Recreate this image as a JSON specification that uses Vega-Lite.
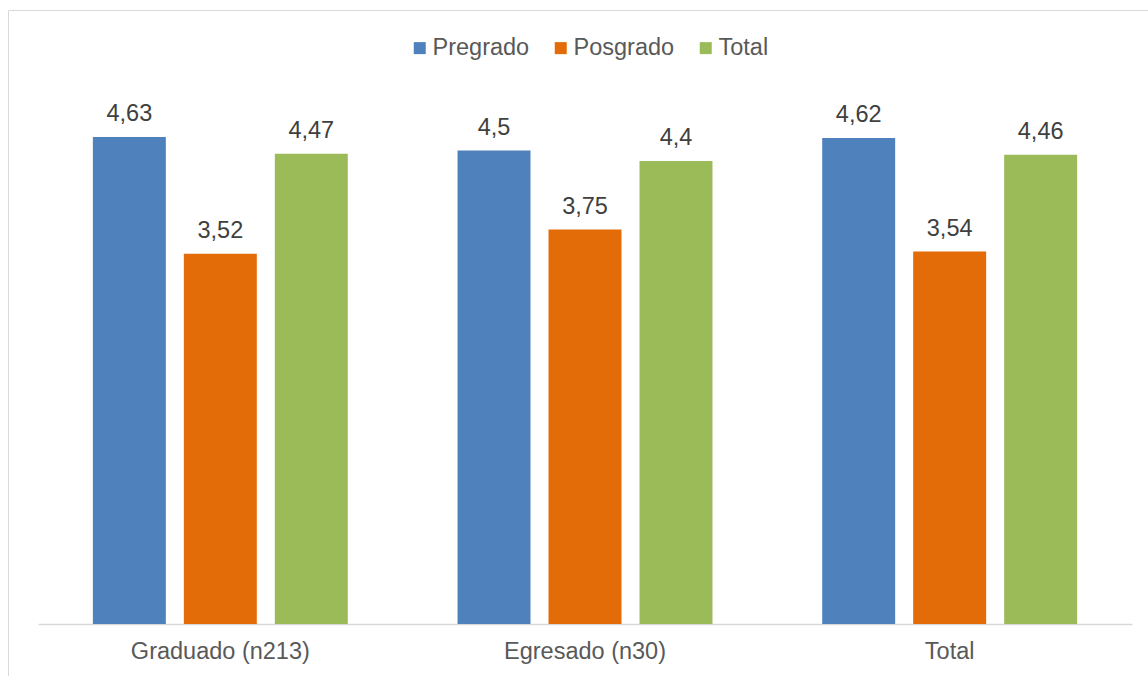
{
  "$schema": "https://vega.github.io/schema/vega-lite/v6.json",
  "width": 1140,
  "height": 666,
  "autosize": {"type": "none"},
  "padding": {"left": 8, "top": 10, "right": 0, "bottom": 0},
  "background": "white",
  "config": {
    "view": {"stroke": "#d9d9d9", "strokeWidth": 1},
    "font": "Liberation Sans",
    "locale": {"number": {"decimal": ",", "thousands": ".", "grouping": [3], "currency": ["", " €"]}}
  },
  "data": {
    "values": [
      {"grupo": "Graduado (n213)", "nivel": "Pregrado", "valor": 4.63},
      {"grupo": "Graduado (n213)", "nivel": "Posgrado", "valor": 3.52},
      {"grupo": "Graduado (n213)", "nivel": "Total", "valor": 4.47},
      {"grupo": "Egresado (n30)", "nivel": "Pregrado", "valor": 4.5},
      {"grupo": "Egresado (n30)", "nivel": "Posgrado", "valor": 3.75},
      {"grupo": "Egresado (n30)", "nivel": "Total", "valor": 4.4},
      {"grupo": "Total", "nivel": "Pregrado", "valor": 4.62},
      {"grupo": "Total", "nivel": "Posgrado", "valor": 3.54},
      {"grupo": "Total", "nivel": "Total", "valor": 4.46}
    ]
  },
  "encoding": {
    "x": {
      "field": "grupo",
      "type": "nominal",
      "sort": ["Graduado (n213)", "Egresado (n30)", "Total"],
      "scale": {"range": [30, 1124], "paddingInner": 0, "paddingOuter": 0},
      "axis": {
        "title": null,
        "orient": "bottom",
        "offset": -52,
        "labelAngle": 0,
        "labelFontSize": 23.5,
        "labelColor": "#595959",
        "labelPadding": 15,
        "ticks": false,
        "domainColor": "#d9d9d9",
        "domainWidth": 1.5,
        "grid": false
      }
    },
    "xOffset": {
      "field": "nivel",
      "type": "nominal",
      "sort": ["Pregrado", "Posgrado", "Total"],
      "scale": {"paddingInner": 0.198, "paddingOuter": 0.603}
    },
    "y": {
      "field": "valor",
      "type": "quantitative",
      "scale": {"domain": [0, 5], "range": [614, 88], "nice": false, "zero": true},
      "axis": null
    }
  },
  "layer": [
    {
      "mark": {"type": "bar"},
      "encoding": {
        "color": {
          "field": "nivel",
          "type": "nominal",
          "sort": ["Pregrado", "Posgrado", "Total"],
          "scale": {"domain": ["Pregrado", "Posgrado", "Total"], "range": ["#4F81BD", "#E36C09", "#9BBB59"]},
          "legend": {
            "title": null,
            "orient": "none",
            "direction": "horizontal",
            "legendX": 400,
            "legendY": 26,
            "symbolType": "square",
            "symbolSize": 144,
            "symbolStrokeWidth": 0,
            "symbolOpacity": 1,
            "labelFontSize": 23.5,
            "labelColor": "#595959",
            "labelOffset": 1,
            "columnPadding": 19,
            "padding": 0
          }
        }
      }
    },
    {
      "mark": {"type": "text", "baseline": "alphabetic", "align": "center", "dy": -16, "fontSize": 23.5, "color": "#404040"},
      "encoding": {
        "text": {"field": "valor", "type": "quantitative", "format": "~g"}
      }
    }
  ]
}
